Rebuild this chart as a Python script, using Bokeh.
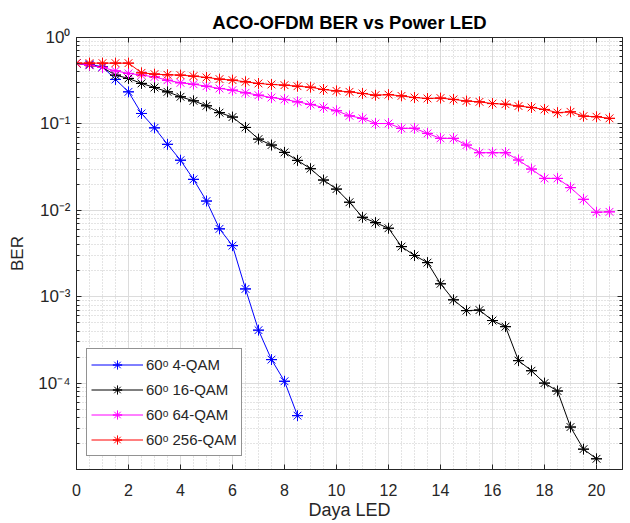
from bokeh.plotting import figure
from bokeh.models import (LogAxis, LinearAxis, FixedTicker, CustomJSTickFormatter,
                          Legend, LegendItem, Range1d)
from bokeh.embed import file_html
from bokeh.resources import INLINE

# ---------------- data ----------------
x_4qam = [i * 0.5 for i in range(18)]          # 0 .. 8.5
ber_4qam = [0.50, 0.49, 0.457, 0.327, 0.235, 0.132, 0.090, 0.058, 0.038,
            0.0228, 0.0128, 0.0061, 0.0039, 0.00123, 4.1e-4, 1.87e-4,
            1.05e-4, 4.2e-5]

x_16qam = [i * 0.5 for i in range(41)]         # 0 .. 20
ber_16qam = [0.50, 0.478, 0.45, 0.367, 0.336, 0.294, 0.264, 0.235, 0.206,
             0.185, 0.162, 0.135, 0.120, 0.091, 0.0667, 0.0569, 0.0468,
             0.0378, 0.0303, 0.0224, 0.0176, 0.0124, 0.0083, 0.0072, 0.0062,
             0.0038, 0.0030, 0.00248, 0.00141, 9.2e-4, 6.9e-4, 7.0e-4,
             5.3e-4, 4.5e-4, 1.82e-4, 1.39e-4, 1.0e-4, 8.1e-5, 3.1e-5,
             1.72e-5, 1.33e-5]

x_64qam = [i * 0.5 for i in range(42)]         # 0 .. 20.5
ber_64qam = [0.50, 0.478, 0.45, 0.411, 0.384, 0.367, 0.350, 0.320, 0.299,
             0.288, 0.273, 0.257, 0.246, 0.229, 0.215, 0.202, 0.192, 0.180,
             0.168, 0.155, 0.142, 0.124, 0.116, 0.101, 0.101, 0.0887, 0.089,
             0.0776, 0.068, 0.068, 0.0569, 0.0464, 0.0464, 0.0464, 0.0382,
             0.030, 0.0234, 0.0234, 0.0183, 0.0134, 0.0095, 0.0096]

x_256qam = [i * 0.5 for i in range(42)]        # 0 .. 20.5
ber_256qam = [0.505, 0.505, 0.505, 0.505, 0.505, 0.39, 0.377, 0.37, 0.367,
              0.357, 0.345, 0.33, 0.321, 0.307, 0.294, 0.286, 0.281, 0.273,
              0.266, 0.25, 0.241, 0.235, 0.225, 0.215, 0.218, 0.211, 0.202,
              0.197, 0.199, 0.192, 0.184, 0.18, 0.172, 0.169, 0.161, 0.155,
              0.147, 0.135, 0.138, 0.123, 0.121, 0.116]

series_labels = ["60\u1d52 4-QAM", "60\u1d52 16-QAM", "60\u1d52 64-QAM", "60\u1d52 256-QAM"]
series_colors = ["#0000ff", "#000000", "#ff00ff", "#ff0000"]

x_ticks = [0, 2, 4, 6, 8, 10, 12, 14, 16, 18, 20]
y_ticks = [1e-4, 1e-3, 1e-2, 1e-1, 1.0]

title_text = "ACO-OFDM BER vs Power LED"
x_label = "Daya LED"
y_label = "BER"

# ---------------- figure ----------------
FONT = "Liberation Sans"
AX = "#262626"

p = figure(width=630, height=523, x_range=Range1d(0, 21), y_range=Range1d(1e-5, 1),
           y_axis_type="log", output_backend="svg", toolbar_location=None,
           min_border_left=76, min_border_right=8, min_border_top=37,
           min_border_bottom=54, background_fill_color="white",
           border_fill_color="white")

p.title.text = title_text
p.title.align = "center"
p.title.text_font = FONT
p.title.text_font_size = "18.5px"
p.title.text_font_style = "bold"
p.title.text_color = "#000000"
p.title.standoff = 1

x_minor = [i * 0.5 for i in range(43)]
y_minor = [k * 10.0 ** e for e in range(-5, 0) for k in range(2, 10)]
xticker = FixedTicker(ticks=x_ticks, minor_ticks=x_minor)
yticker = FixedTicker(ticks=y_ticks, minor_ticks=y_minor)

sup_fmt = CustomJSTickFormatter(code="""
const e = Math.round(Math.log10(tick));
const sup = {'-':'\u207b','0':'\u2070','1':'\u00b9','2':'\u00b2','3':'\u00b3',
             '4':'\u2074','5':'\u2075','6':'\u2076','7':'\u2077','8':'\u2078','9':'\u2079'};
return '10' + String(e).split('').map(c => sup[c]).join('');
""")
blank = CustomJSTickFormatter(code="return '';")

def style_axis(ax, minor=True):
    ax.axis_line_color = AX
    ax.major_tick_line_color = AX
    ax.major_tick_in = 5
    ax.major_tick_out = 0
    if minor:
        ax.minor_tick_line_color = AX
        ax.minor_tick_in = 3
        ax.minor_tick_out = 0
    else:
        ax.minor_tick_line_color = None
    ax.major_label_text_color = AX
    ax.major_label_text_font = FONT
    ax.major_label_text_font_size = "16px"
    ax.axis_label_text_font = FONT
    ax.axis_label_text_font_size = "18px"
    ax.axis_label_text_font_style = "normal"
    ax.axis_label_text_color = AX

xa = p.xaxis[0]
xa.ticker = xticker
style_axis(xa, minor=False)
xa.major_label_standoff = 10
xa.axis_label = x_label
xa.axis_label_standoff = 1

ya = p.yaxis[0]
ya.ticker = yticker
ya.formatter = sup_fmt
style_axis(ya, minor=True)
ya.major_label_text_font_size = "17px"
ya.major_label_standoff = 6
ya.axis_label = y_label
ya.axis_label_text_font_size = "17px"
ya.axis_label_standoff = 8

for ax, side, minor in ((LinearAxis(ticker=xticker, formatter=blank), "above", False),
                        (LogAxis(ticker=yticker, formatter=blank), "right", True)):
    style_axis(ax, minor=minor)
    ax.major_label_standoff = 0
    ax.axis_label_standoff = 0
    ax.major_label_text_font_size = "0px"
    p.add_layout(ax, side)

p.outline_line_color = AX

p.xgrid.ticker = xticker
p.ygrid.ticker = yticker
for g in (p.xgrid[0], p.ygrid[0]):
    g.grid_line_color = "#dcdcdc"
    g.grid_line_width = 1
    g.minor_grid_line_color = "#c8c8c8"
    g.minor_grid_line_dash = "1 2"
    g.minor_grid_line_width = 1

# ---------------- series ----------------
xs = [x_4qam, x_16qam, x_64qam, x_256qam]
ys = [ber_4qam, ber_16qam, ber_64qam, ber_256qam]
items = []
for xv, yv, col, lab in zip(xs, ys, series_colors, series_labels):
    l = p.line(xv, yv, line_color=col, line_width=1)
    s = p.scatter(xv, yv, marker="asterisk", size=11, line_color=col, line_width=1)
    d = p.scatter(xv, yv, marker="dash", size=11, line_color=col, line_width=1)
    items.append(LegendItem(label=lab, renderers=[l, s, d]))

legend = Legend(items=items, location=(10, 13), border_line_color=AX,
                border_line_width=1, background_fill_color="white",
                background_fill_alpha=1.0, label_text_font=FONT,
                label_text_font_size="15px", label_text_color=AX,
                glyph_width=52, glyph_height=23, label_height=23,
                spacing=2, padding=4, margin=0, label_standoff=3)
p.add_layout(legend)

open("out.html", "w").write(file_html(p, INLINE))
